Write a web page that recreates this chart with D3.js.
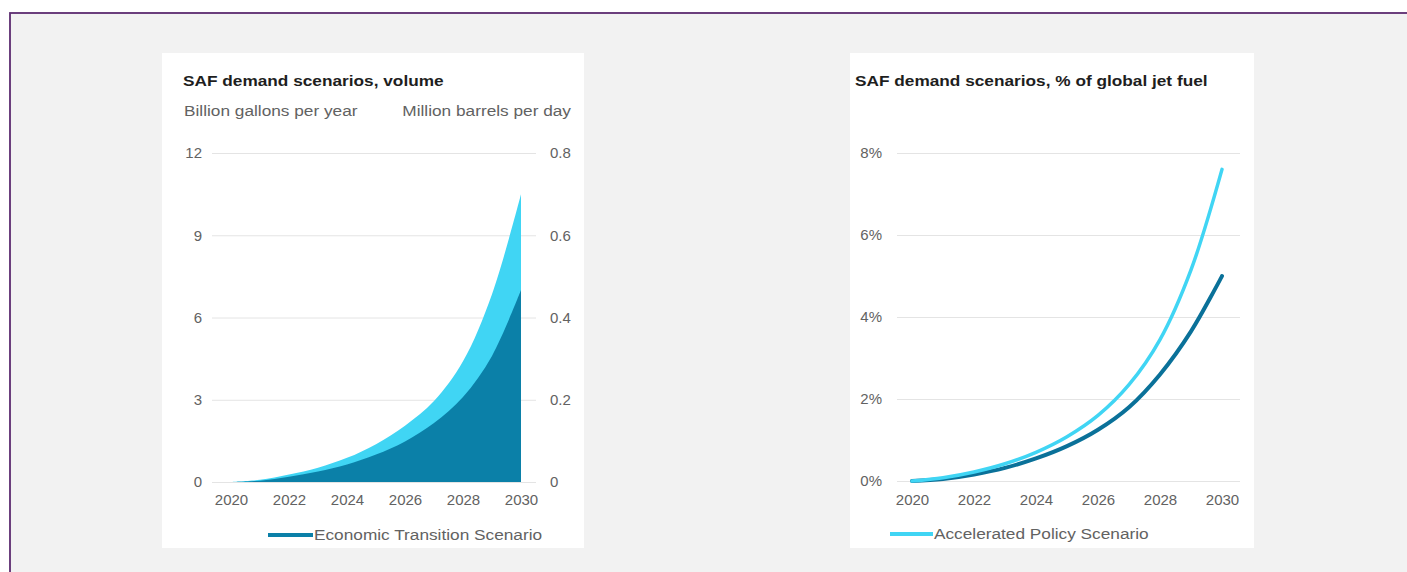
<!DOCTYPE html>
<html>
<head>
<meta charset="utf-8">
<script src="https://cdn.jsdelivr.net/npm/d3@7"></script>
<style>
  html, body { margin: 0; padding: 0; background: #ffffff; }
  svg { display: block; }
  text { font-family: "Liberation Sans", Arial, sans-serif; }
</style>
</head>
<body>
<svg id="chart" width="1407" height="572"></svg>
<script>
// ---- data ----
const years = [2020, 2021, 2022, 2023, 2024, 2025, 2026, 2027, 2028, 2029, 2030];
// volume, billion gallons per year
const volAccelerated = [0, 0.08, 0.27, 0.52, 0.88, 1.38, 2.05, 2.95, 4.4, 6.85, 10.5];
const volEconomic    = [0, 0.05, 0.19, 0.38, 0.64, 1.0, 1.48, 2.15, 3.1, 4.6, 7.0];
// share of global jet fuel, %
const pctAccelerated = [0, 0.08, 0.22, 0.42, 0.7, 1.08, 1.6, 2.35, 3.45, 5.15, 7.6];
const pctEconomic    = [0, 0.05, 0.16, 0.32, 0.55, 0.85, 1.25, 1.8, 2.6, 3.65, 5.0];

const xTicks = [2020, 2022, 2024, 2026, 2028, 2030];
const volTicks = [0, 3, 6, 9, 12];
const bblTicks = [0, 0.2, 0.4, 0.6, 0.8];
const pctTicks = [0, 2, 4, 6, 8];

const titleVolume = "SAF demand scenarios, volume";
const titleShare = "SAF demand scenarios, % of global jet fuel";
const unitLeft = "Billion gallons per year";
const unitRight = "Million barrels per day";
const legendEconomic = "Economic Transition Scenario";
const legendAccelerated = "Accelerated Policy Scenario";

// ---- styles ----
const COL_LIGHT = "#40d5f4";
const COL_DARK = "#0b80a8";
const COL_DARK_LINE = "#0a7199";
const COL_GRID = "#e4e4e4";
const COL_TICK = "#626262";
const STRETCH = 1.15;
const CURVE = d3.curveCatmullRom.alpha(0.5);

const svg = d3.select("#chart");

// page frame
svg.append("rect").attr("x", 10).attr("y", 13).attr("width", 1420).attr("height", 600)
  .attr("fill", "#f2f2f2").attr("stroke", "#5c2c70").attr("stroke-width", 1.8);

// panels
svg.append("rect").attr("x", 162).attr("y", 53).attr("width", 422).attr("height", 495).attr("fill", "#fff");
svg.append("rect").attr("x", 850).attr("y", 53).attr("width", 404).attr("height", 495).attr("fill", "#fff");

// horizontally widened text label
function label(g, x, y, str, opts = {}) {
  return g.append("text")
    .attr("transform", `translate(${x},${y}) scale(${STRETCH},1)`)
    .attr("text-anchor", opts.anchor || "start")
    .attr("font-size", opts.size || 15)
    .attr("font-weight", opts.bold ? "bold" : "normal")
    .attr("fill", opts.color || COL_TICK)
    .text(str);
}

function styleAxis(g) {
  g.select(".domain").remove();
  g.selectAll("text").attr("font-size", 15).attr("fill", COL_TICK)
    .style("font-family", '"Liberation Sans", Arial, sans-serif');
}

// ================= left: volume =================
{
  const g = svg.append("g");
  const x = d3.scaleLinear().domain([2020, 2030]).range([231, 521]);
  const y = d3.scaleLinear().domain([0, 12]).range([482, 153]);
  const yB = d3.scaleLinear().domain([0, 0.8]).range([482, 153]);

  // gridlines
  g.append("g").attr("transform", "translate(212,0)")
    .call(d3.axisLeft(y).tickValues(volTicks).tickSize(-324).tickFormat(""))
    .call(a => { a.select(".domain").remove(); a.selectAll("line").attr("stroke", COL_GRID); });

  const area = vals => d3.area()
    .x((d, i) => x(years[i])).y0(y(0)).y1(d => y(d))
    .curve(CURVE)(vals);

  g.append("path").attr("d", area(volAccelerated)).attr("fill", COL_LIGHT);
  g.append("path").attr("d", area(volEconomic)).attr("fill", COL_DARK);

  g.append("g").attr("transform", "translate(202,0)")
    .call(d3.axisLeft(y).tickValues(volTicks).tickSize(0).tickPadding(0))
    .call(styleAxis);
  g.append("g").attr("transform", "translate(550,0)")
    .call(d3.axisRight(yB).tickValues(bblTicks).tickSize(0).tickPadding(0)
      .tickFormat(d => d === 0 ? "0" : d3.format(".1f")(d)))
    .call(styleAxis);
  g.append("g").attr("transform", "translate(0,494)")
    .call(d3.axisBottom(x).tickValues(xTicks).tickSize(0).tickPadding(0).tickFormat(d3.format("d")))
    .call(styleAxis);

  label(g, 183, 86, titleVolume, { bold: true, color: "#1e1e1e" });
  label(g, 184, 116, unitLeft);
  label(g, 571, 116, unitRight, { anchor: "end" });

  g.append("line").attr("x1", 268).attr("x2", 313).attr("y1", 535).attr("y2", 535)
    .attr("stroke", COL_DARK).attr("stroke-width", 4);
  label(g, 314, 540, legendEconomic);
}

// ================= right: share of jet fuel =================
{
  const g = svg.append("g");
  const x = d3.scaleLinear().domain([2020, 2030]).range([912, 1222]);
  const y = d3.scaleLinear().domain([0, 8]).range([481, 153]);

  g.append("g").attr("transform", "translate(897,0)")
    .call(d3.axisLeft(y).tickValues(pctTicks).tickSize(-343).tickFormat(""))
    .call(a => { a.select(".domain").remove(); a.selectAll("line").attr("stroke", COL_GRID); });

  const line = vals => d3.line()
    .x((d, i) => x(years[i])).y(d => y(d))
    .curve(CURVE)(vals);

  g.append("path").attr("d", line(pctEconomic)).attr("fill", "none")
    .attr("stroke", COL_DARK_LINE).attr("stroke-width", 4).attr("stroke-linecap", "round");
  g.append("path").attr("d", line(pctAccelerated)).attr("fill", "none")
    .attr("stroke", COL_LIGHT).attr("stroke-width", 3.5).attr("stroke-linecap", "round");

  g.append("g").attr("transform", "translate(882,0)")
    .call(d3.axisLeft(y).tickValues(pctTicks).tickSize(0).tickPadding(0).tickFormat(d => d + "%"))
    .call(styleAxis);
  g.append("g").attr("transform", "translate(0,494)")
    .call(d3.axisBottom(x).tickValues(xTicks).tickSize(0).tickPadding(0).tickFormat(d3.format("d")))
    .call(styleAxis);

  label(g, 855, 86, titleShare, { bold: true, color: "#1e1e1e" });

  g.append("line").attr("x1", 890).attr("x2", 933).attr("y1", 534).attr("y2", 534)
    .attr("stroke", COL_LIGHT).attr("stroke-width", 4);
  label(g, 934, 539, legendAccelerated);
}
</script>
</body>
</html>
